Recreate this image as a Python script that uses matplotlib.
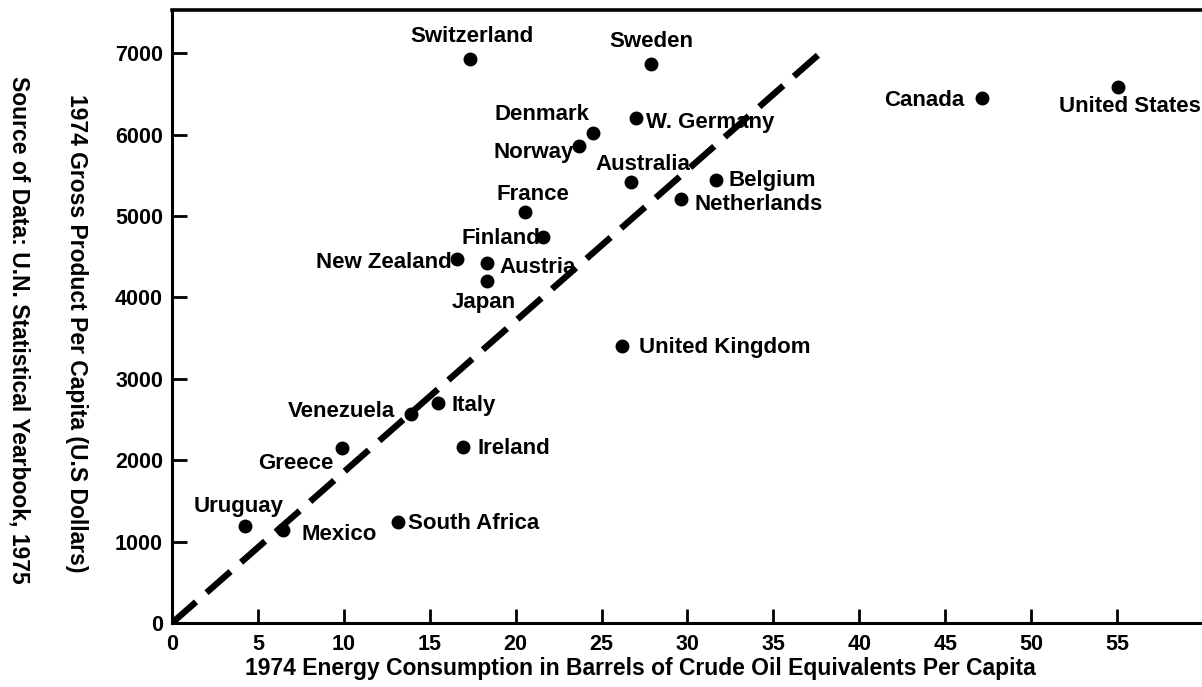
import matplotlib
matplotlib.use("Agg")
import matplotlib.pyplot as plt

plt.rcParams['font.family'] = ['Liberation Sans', 'DejaVu Sans']
plt.rcParams['font.weight'] = 'bold'

countries = ["Switzerland", "Sweden", "Denmark", "W. Germany", "Norway",
             "Australia", "Belgium", "Netherlands", "France", "Finland",
             "New Zealand", "Austria", "Japan", "United Kingdom", "Canada",
             "United States", "Italy", "Venezuela", "Ireland", "Greece",
             "Uruguay", "Mexico", "South Africa"]
energy = [17.35, 27.88, 24.51, 27.01, 23.69,
          26.72, 31.66, 29.63, 20.55, 21.59,
          16.59, 18.34, 18.34, 26.19, 47.15,
          55.06, 15.48, 13.91, 16.94, 9.90,
          4.25, 6.46, 13.15]
gdp = [6929, 6867, 6020, 6204, 5860,
       5418, 5442, 5209, 5049, 4742,
       4472, 4423, 4201, 3403, 6450,
       6585, 2703, 2568, 2162, 2150,
       1192, 1143, 1241]

trend_x = [0, 38]
trend_y = [0, 7050]

x_ticks = list(range(0, 60, 5))
y_ticks = list(range(0, 8000, 1000))

# where each name sits next to its dot: (ha, dx, dy) in pixels, dy up
place = {
    "Switzerland": ("center", 2, 24), "Sweden": ("center", 0, 24),
    "Denmark": ("right", -4, 20), "Norway": ("right", -5, -5),
    "W. Germany": ("left", 10, -3), "Australia": ("center", 12, 19),
    "Belgium": ("left", 13, 1), "Netherlands": ("left", 13, -4),
    "France": ("center", 8, 19), "Finland": ("right", -3, 0),
    "New Zealand": ("right", -5, -2), "Austria": ("left", 12, -3),
    "Japan": ("center", -3, -19), "United Kingdom": ("left", 17, 0),
    "Canada": ("right", -18, -1), "United States": ("left", -59, -18),
    "Italy": ("left", 14, -1), "Venezuela": ("right", -16, 4),
    "Ireland": ("left", 14, 0), "Greece": ("right", -9, -14),
    "Uruguay": ("center", -6, 21), "Mexico": ("left", 19, -3),
    "South Africa": ("left", 10, 0),
}

fig = plt.figure(figsize=(12.02, 6.87), dpi=100)
ax = fig.add_axes([172/1202, 64/687, 1030/1202, 613/687])

ax.plot(trend_x, trend_y, color='black', lw=4.6, dashes=(5, 2.2),
        solid_capstyle='butt', zorder=2)
ax.plot(energy, gdp, 'o', color='black', ms=9, zorder=3)

for name, ex, gy in zip(countries, energy, gdp):
    ha, dx, dy = place[name]
    ax.annotate(name, (ex, gy), xytext=(dx, dy - 7.5), textcoords='offset pixels',
                ha=ha, va='baseline', fontsize=16, fontweight='bold',
                annotation_clip=False)

ax.set_xlim(0, 59.95)
ax.set_ylim(0, 7530)
ax.set_xticks(x_ticks)
ax.set_yticks(y_ticks)
ax.tick_params(axis='both', direction='in', width=2, labelsize=15.5, colors='black')
ax.tick_params(axis='y', length=11, pad=6.5)
ax.tick_params(axis='x', length=10, pad=8)
for lab in ax.get_xticklabels() + ax.get_yticklabels():
    lab.set_fontweight('bold')

ax.spines['right'].set_visible(False)
ax.spines['left'].set_linewidth(2.2)
ax.spines['bottom'].set_linewidth(2.2)
ax.spines['top'].set_linewidth(2.6)

fig.text(640/1202, 1 - 668/687,
         "1974 Energy Consumption in Barrels of Crude Oil Equivalents Per Capita",
         ha='center', va='center', fontsize=16.5, fontweight='bold')
fig.text(76/1202, 1 - 333/687, "1974 Gross Product Per Capita (U.S Dollars)",
         rotation=-90, ha='center', va='center', fontsize=16.5, fontweight='bold')
fig.text(19/1202, 1 - 330/687, "Source of Data: U.N. Statistical Yearbook, 1975",
         rotation=-90, ha='center', va='center', fontsize=16.5, fontweight='bold')

fig.savefig("out.png", dpi=100, facecolor='white')
